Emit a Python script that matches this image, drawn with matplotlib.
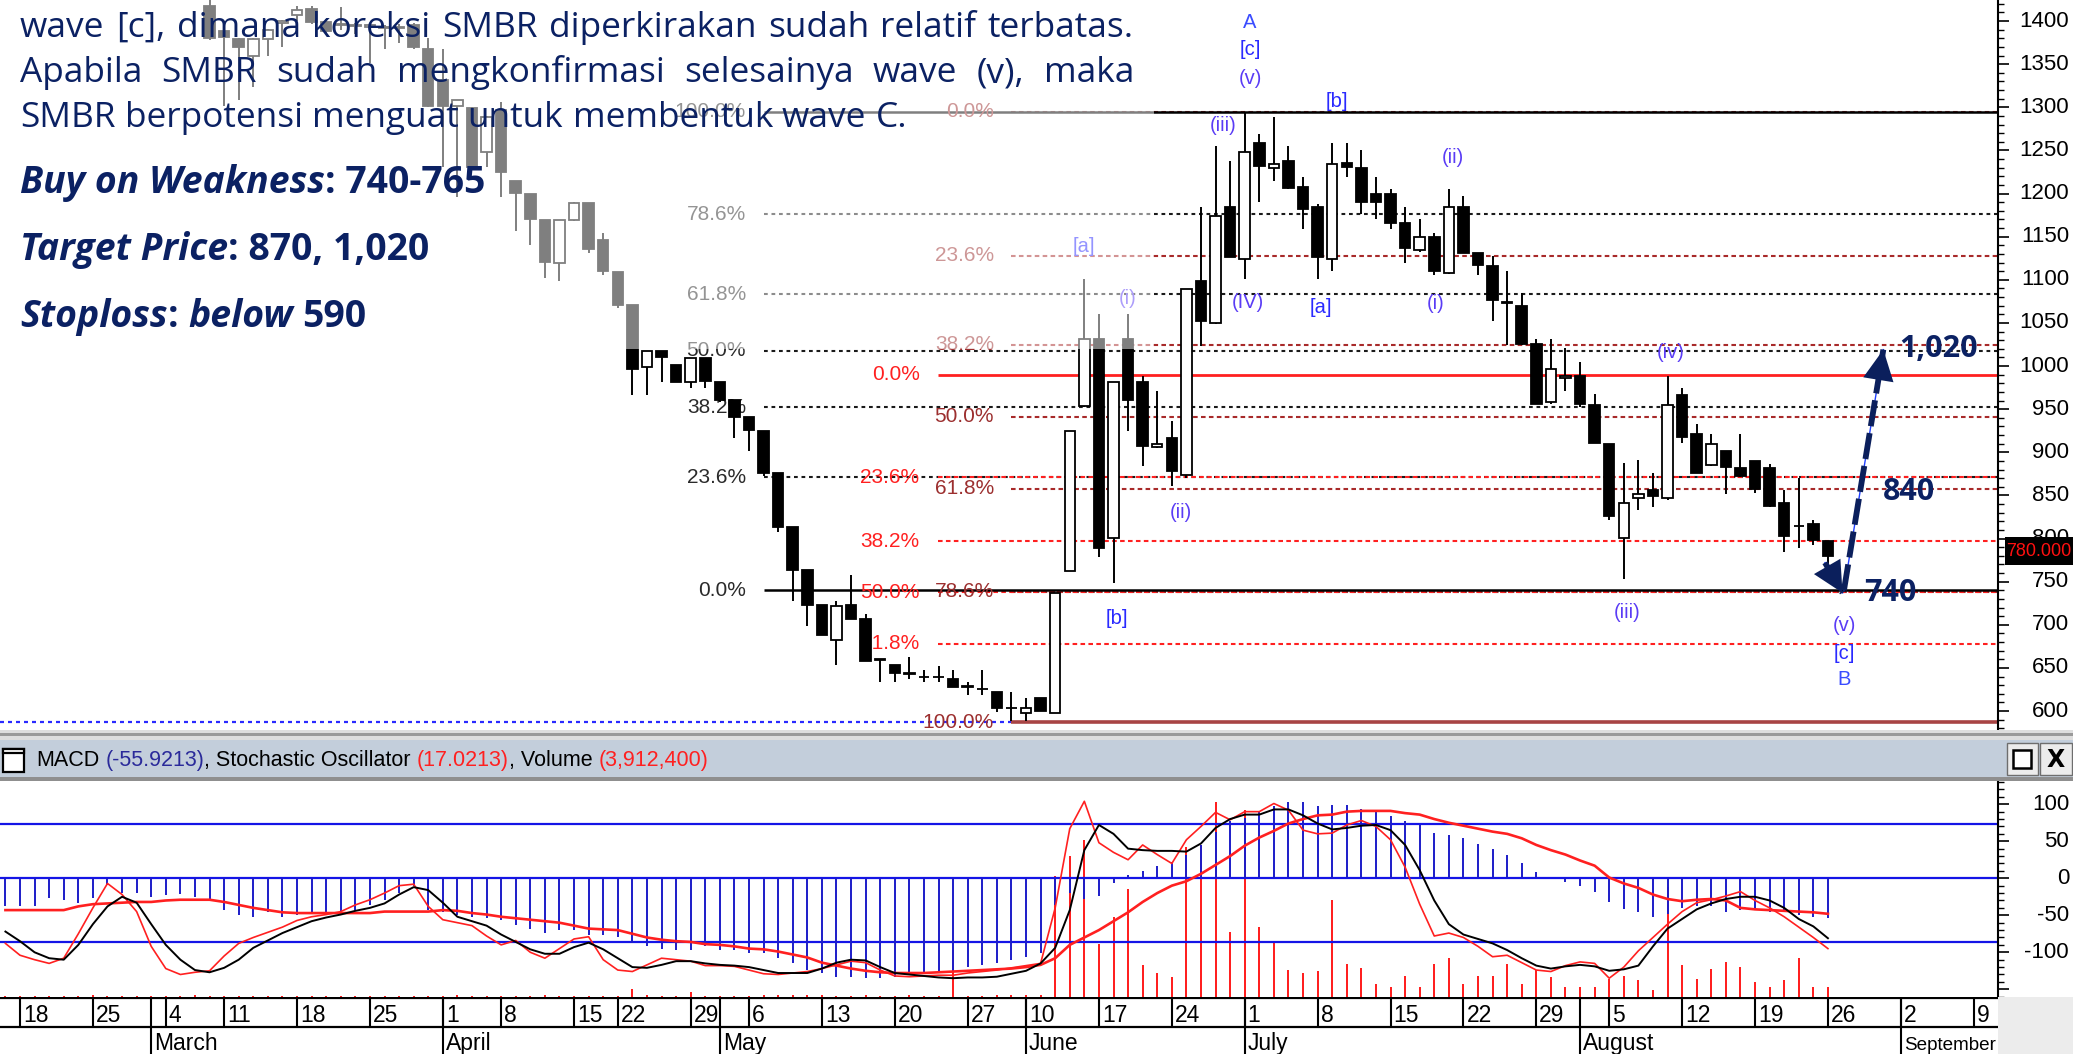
import numpy as np
import pandas as pd
import matplotlib
matplotlib.use("Agg")
import matplotlib.pyplot as plt
from matplotlib import font_manager as fm
from matplotlib.patches import Rectangle
import matplotlib.transforms as mtrans

# ------------------------------------------------------------------ data
holidays = pd.to_datetime(["2019-03-07", "2019-04-03", "2019-04-17", "2019-04-19",
                           "2019-05-01", "2019-05-30", "2019-06-03", "2019-06-04",
                           "2019-06-05", "2019-06-06", "2019-06-07"])
days = pd.bdate_range("2019-02-15", "2019-09-13")
days = days[~days.isin(holidays)]
day_idx = np.arange(len(days)) - 1          # 0 -> 18 Feb 2019

candle_idx = np.arange(13, 125)
opens = [1417, 1388, 1379, 1360, 1379, 1398, 1407, 1414, 1399, 1395,
         1395, 1393, 1393, 1392, 1395, 1368, 1332, 1302, 1299, 1248,
         1297, 1214, 1200, 1169, 1119, 1169, 1189, 1146, 1109, 1071,
         999, 1017, 1001, 981, 1009, 982, 961, 941, 925, 876,
         813, 763, 723, 682, 723, 707, 660, 653, 644, 640,
         640, 637, 629, 626, 622, 603, 598, 615, 598, 762,
         954, 1031, 801, 1031, 981, 906, 917, 874, 1099, 1050,
         1184, 1124, 1258, 1230, 1238, 1208, 1184, 1124, 1235, 1230,
         1200, 1200, 1166, 1134, 1150, 1108, 1184, 1131, 1116, 1074,
         1070, 1025, 958, 986, 989, 955, 910, 801, 847, 856,
         847, 966, 921, 885, 901, 882, 890, 882, 841, 814,
         817, 797]
highs = [1424, 1390, 1380, 1380, 1391, 1401, 1417, 1417, 1402, 1416,
         1398, 1397, 1395, 1397, 1398, 1380, 1368, 1308, 1300, 1290,
         1306, 1214, 1200, 1169, 1169, 1190, 1189, 1154, 1109, 1071,
         1017, 1017, 1001, 1009, 1009, 982, 961, 941, 925, 876,
         813, 763, 723, 727, 758, 713, 660, 653, 663, 648,
         652, 648, 634, 648, 622, 622, 615, 615, 737, 925,
         1101, 1060, 981, 1060, 988, 971, 936, 1089, 1184, 1255,
         1238, 1294, 1269, 1289, 1255, 1219, 1188, 1259, 1259, 1250,
         1219, 1205, 1184, 1170, 1154, 1205, 1197, 1131, 1128, 1110,
         1085, 1031, 1031, 1021, 1005, 967, 910, 887, 891, 876,
         988, 975, 933, 921, 901, 921, 890, 886, 856, 870,
         821, 797]
lows = [1378, 1301, 1308, 1324, 1359, 1370, 1400, 1396, 1385, 1390,
        1385, 1351, 1368, 1374, 1368, 1300, 1231, 1196, 1229, 1231,
        1196, 1156, 1140, 1102, 1098, 1168, 1131, 1105, 1067, 966,
        966, 982, 981, 975, 975, 958, 917, 902, 873, 807,
        727, 699, 688, 653, 707, 658, 634, 634, 637, 634,
        634, 628, 619, 619, 599, 588, 588, 600, 598, 762,
        953, 778, 749, 925, 884, 905, 861, 870, 1023, 1049,
        1126, 1101, 1190, 1215, 1205, 1159, 1101, 1110, 1219, 1176,
        1170, 1159, 1120, 1132, 1106, 1107, 1131, 1106, 1052, 1024,
        1024, 956, 956, 971, 953, 911, 822, 753, 833, 837,
        845, 911, 876, 884, 852, 871, 853, 837, 784, 789,
        792, 771]
closes = [1380, 1381, 1370, 1379, 1390, 1400, 1413, 1399, 1388, 1396,
          1394, 1395, 1392, 1393, 1370, 1301, 1301, 1308, 1231, 1289,
          1225, 1201, 1171, 1121, 1169, 1189, 1136, 1110, 1071, 997,
          1017, 1011, 982, 1009, 983, 961, 941, 926, 876, 813,
          763, 723, 688, 722, 707, 658, 659, 644, 643, 639,
          639, 628, 628, 625, 604, 603, 603, 600, 737, 925,
          1031, 789, 981, 961, 907, 910, 878, 1089, 1052, 1174,
          1126, 1248, 1232, 1234, 1206, 1182, 1126, 1234, 1231, 1190,
          1190, 1166, 1137, 1149, 1110, 1184, 1131, 1117, 1076, 1073,
          1025, 956, 996, 989, 956, 911, 826, 841, 852, 849,
          955, 918, 876, 910, 883, 872, 857, 838, 803, 814,
          798, 780]

# indicator panel values (idx -1 .. 124), in the panel's own scale
macd_hist = [-38, -38, -38, -27, -30, -34, -27, -9, -20, -20,
             -25, -23, -21, -25, -31, -43, -50, -52, -45, -52,
             -50, -47, -46, -45, -43, -36, -29, -20, -11, -43,
             -45, -50, -52, -54, -56, -63, -68, -74, -70, -70,
             -77, -77, -79, -88, -91, -95, -97, -97, -92, -97,
             -97, -101, -101, -108, -115, -124, -128, -133, -133, -135,
             -135, -133, -131, -128, -128, -125, -120, -117, -115, -110,
             -106, -101, -36, -20, -28, -24, -7, 5, 10, 17,
             22, 32, 45, 62, 78, 81, 89, 98, 103, 103,
             97, 99, 99, 94, 90, 84, 78, 72, 61, 58,
             54, 46, 39, 31, 21, 9, 0, -5, -11, -19,
             -32, -42, -46, -52, -48, -40, -37, -37, -45, -43,
             -43, -45, -43, -49, -52, -54]
macd_signal = [-43, -43, -43, -43, -43, -38, -35, -34, -33, -32,
               -32, -30, -29, -29, -29, -32, -36, -40, -43, -46,
               -47, -47, -47, -47, -47, -47, -45, -45, -45, -45,
               -43, -44, -47, -49, -52, -54, -56, -58, -60, -64,
               -68, -69, -70, -75, -80, -83, -85, -86, -89, -90,
               -92, -95, -96, -99, -103, -107, -114, -118, -122, -125,
               -127, -128, -128, -128, -127, -126, -125, -124, -123, -122,
               -120, -117, -108, -90, -80, -70, -58, -46, -32, -20,
               -10, -4, 6, 18, 30, 44, 55, 64, 74, 80,
               85, 86, 90, 91, 91, 91, 88, 86, 80, 75,
               71, 67, 63, 60, 54, 45, 38, 32, 24, 17,
               1, -7, -13, -22, -28, -31, -29, -28, -30, -40,
               -42, -43, -44, -45, -46, -48]
stoch_k = [-72, -85, -100, -108, -110, -90, -62, -38, -25, -33,
           -62, -90, -110, -124, -127, -121, -110, -94, -84, -74,
           -66, -58, -53, -49, -44, -40, -34, -22, -12, -16,
           -33, -52, -58, -64, -76, -86, -96, -102, -102, -93,
           -87, -96, -108, -120, -121, -117, -112, -112, -115, -117,
           -118, -120, -124, -128, -128, -128, -122, -114, -110, -111,
           -120, -128, -130, -132, -134, -135, -134, -134, -133, -129,
           -125, -115, -94, -43, 38, 72, 60, 40, 38, 37,
           37, 36, 47, 68, 80, 86, 86, 93, 93, 85,
           74, 66, 68, 71, 72, 65, 45, 11, -30, -62,
           -76, -82, -88, -97, -108, -118, -122, -119, -117, -119,
           -125, -123, -118, -92, -68, -55, -42, -34, -28, -25,
           -25, -30, -40, -55, -65, -81]
stoch_d = [-88, -104, -110, -115, -108, -75, -40, -7, -22, -45,
           -92, -122, -130, -127, -125, -105, -88, -80, -73, -66,
           -57, -52, -49, -45, -36, -29, -20, -10, -8, -38,
           -56, -60, -64, -78, -90, -84, -100, -108, -95, -82,
           -79, -110, -124, -126, -117, -108, -110, -112, -118, -118,
           -119, -124, -129, -130, -128, -126, -122, -117, -112, -114,
           -124, -132, -133, -132, -131, -131, -128, -126, -124, -121,
           -118, -115, -40, 67, 104, 48, 35, 25, 45, 32,
           20, 52, 70, 89, 79, 90, 90, 101, 92, 65,
           60, 61, 72, 78, 70, 52, 15, -35, -78, -74,
           -80, -92, -106, -104, -114, -124, -126, -118, -113, -115,
           -135, -120, -98, -80, -62, -45, -33, -29, -24, -18,
           -30, -40, -52, -66, -80, -95]
volume_m = [0.45, 0.45, 0.45, 0.45, 0.45, 0.45, 0.75, 0.45, 0.45, 0.45,
            0.45, 0.45, 0.45, 0.75, 0.45, 0.45, 0.45, 0.45, 0.45, 0.45,
            0.45, 0.45, 0.45, 0.45, 0.45, 0.45, 0.45, 0.45, 0.45, 0.45,
            0.45, 0.75, 0.45, 0.45, 0.45, 0.45, 0.45, 0.75, 0.45, 0.45,
            0.45, 0.45, 0.45, 3.3, 0.75, 0.45, 0.45, 2.1, 0.45, 0.45,
            0.45, 0.45, 0.75, 0.75, 0.75, 0.75, 0.75, 0.45, 0.45, 0.75,
            0.45, 0.45, 0.75, 0.45, 0.45, 19.0, 0.45, 0.45, 0.75, 0.75,
            0.75, 0.75, 49.4, 57.5, 63.9, 21.7, 32.5, 44.0, 13.0, 9.6,
            8.1, 61.1, 61.7, 79.5, 26.5, 75.9, 28.6, 22.3, 11.1, 9.6,
            10.5, 39.5, 13.6, 12.0, 5.1, 4.2, 8.7, 4.2, 13.6, 15.7,
            5.1, 8.7, 8.7, 13.6, 5.1, 10.8, 8.1, 3.9, 4.2, 3.9,
            7.5, 8.7, 6.9, 3.0, 44.9, 13.0, 7.5, 11.4, 14.2, 12.3,
            6.0, 4.2, 6.9, 15.7, 3.9, 3.9124]
ind_levels = [72.9, 0, -85.7]
ind_idx = np.arange(-1, 125)

# Fibonacci sets
fib_a = dict(low=740, high=1295, ratios=[0, .236, .382, .5, .618, .786, 1.0])
fib_b = dict(high=990, low=485, ratios=[0, .236, .382, .5, .618])
fib_c = dict(high=1295, low=587, ratios=[0, .236, .382, .5, .618, .786, 1.0])
stop_level = 587
last_price = 780.0

wave_labels = [("A", 84.36, 1398.8, "l"), ("[c]", 84.36, 1366.4, "b"), ("(v)", 84.36, 1332.8, "p"),
               ("(iii)", 82.5, 1278.3, "p"), ("[b]", 90.3, 1306.1, "b"), ("(ii)", 98.3, 1242.3, "p"),
               ("[a]", 73.0, 1138.0, "b"), ("(i)", 76.0, 1078.8, "p"), ("(IV)", 84.2, 1074.2, "p"),
               ("[a]", 89.2, 1068.4, "b"), ("(i)", 97.1, 1073.0, "p"), ("(iv)", 113.2, 1016.2, "p"),
               ("(ii)", 79.6, 830.7, "p"), ("[b]", 75.2, 707.8, "b"), ("(iii)", 110.2, 714.8, "p"),
               ("(v)", 125.1, 699.7, "p"), ("[c]", 125.1, 667.2, "b"), ("B", 125.1, 636.0, "l")]
targets = [("1,020", 1020), ("840", 854), ("740", 737)]
path_down = [(123.8, 772), (125.0, 737)]
path_up = [(125.1, 740), (127.8, 1019)]

title_lines = ["wave [c], dimana koreksi SMBR diperkirakan sudah relatif terbatas.",
               "Apabila SMBR sudah mengkonfirmasi selesainya wave (v), maka",
               "SMBR berpotensi menguat untuk membentuk wave C."]
# ------------------------------------------------------------------ layout
W, H, DPI = 2073, 1054, 100
XPX0, XSTEP = 20.0, 14.58
XMIN, XMAX = (0 - XPX0) / XSTEP, (1998 - XPX0) / XSTEP
P_TOP, P_BOT = 1424.35, 578.0
IND_TOP, IND_BOT = 131.4, -160.4
VOLK = 3.32

avail = {f.name for f in fm.fontManager.ttflist}
def pick(cands):
    for c in cands:
        if c in avail:
            return c
    return "DejaVu Sans"
NARROW = pick(["Liberation Sans Narrow", "Arial Narrow", "Liberation Sans", "DejaVu Sans"])
BODY = pick(["Segoe UI", "Open Sans", "Noto Sans", "DejaVu Sans"])
plt.rcParams['font.family'] = [NARROW, 'DejaVu Sans']

NAVY = "#0b2163"
fig = plt.figure(figsize=(W / DPI, H / DPI), dpi=DPI)
fig.patch.set_facecolor("white")
R = fig.canvas.get_renderer()

def px_axes(x0, y0, x1, y1):
    return fig.add_axes([x0 / W, 1 - y1 / H, (x1 - x0) / W, (y1 - y0) / H])

def frect(x0, y0, x1, y1, fc, ec="none", lw=0, z=1, alpha=1.0):
    r = Rectangle((x0 / W, 1 - y1 / H), (x1 - x0) / W, (y1 - y0) / H, transform=fig.transFigure,
                  facecolor=fc, edgecolor=ec, linewidth=lw, zorder=z, alpha=alpha)
    fig.add_artist(r)
    return r

def tw(s, **kw):
    t = fig.text(0, 0, s, **kw)
    w = t.get_window_extent(renderer=R).width
    t.remove()
    return w

# ------------------------------------------------------------------ price panel
ax = px_axes(0, 0, 1998, 730)
ax.set_xlim(XMIN, XMAX)
ax.set_ylim(P_BOT, P_TOP)
for s in ["top", "left", "bottom"]:
    ax.spines[s].set_visible(False)
ax.spines["right"].set_linewidth(1.5)
ax.set_xticks([])
ax.yaxis.tick_right()
ax.set_yticks(np.arange(600, 1401, 50))
ax.set_yticks(np.arange(580, 1421, 10), minor=True)
ax.tick_params(axis="y", which="major", length=8, width=1.2, labelright=False)
ax.tick_params(axis="y", which="minor", length=4, width=1.0)
trp = mtrans.blended_transform_factory(fig.transFigure, ax.transData)
for v in range(600, 1401, 50):
    ax.text(2069 / W, v, str(v), transform=trp, ha="right", va="center", fontsize=16, family=NARROW)

def fib_draw(fs, start, lab_x, lcolor, tcolor, ls, solid_ends, upward):
    hi, lo = fs["high"], fs["low"]
    for r in fs["ratios"]:
        lev = lo + r * (hi - lo) if upward else hi - r * (hi - lo)
        if r in solid_ends:
            ax.hlines(lev, start, XMAX, color=solid_ends[r][0], lw=solid_ends[r][1], zorder=1.2)
        else:
            ax.hlines(lev, start, XMAX, color=lcolor, lw=1.5, linestyles=[ls], zorder=1.1)
        ax.text(lab_x, lev, f"{r * 100:.1f}%", ha="right", va="center", color=tcolor,
                fontsize=15, family=NARROW, zorder=1.3)

fib_draw(fib_a, 51.0, 49.8, "#1a1a1a", "#2a2a2a", (0, (1.8, 1.8)),
         {0: ("black", 1.8), 1.0: ("black", 1.8)}, True)
fib_draw(fib_c, 68.0, 66.8, "#a82a2a", "#9c2f2f", (0, (2.2, 1.6)),
         {1.0: ("#a84444", 2.6)}, False)
fib_draw(fib_b, 62.96, 61.7, "#ff2020", "#ff2020", (0, (2.2, 1.6)),
         {0: ("#ff2020", 2.0)}, False)
ax.hlines(stop_level, XMIN, 68.0, color="#2a2aff", lw=1.6, linestyles=[(0, (1.8, 1.8))], zorder=1.1)

# candles
o = np.array(opens, float); h = np.array(highs, float)
l = np.array(lows, float); c = np.array(closes, float)
ax.vlines(candle_idx, l, h, color="black", lw=1.4, zorder=3)
up = c > o
ax.bar(candle_idx, np.abs(c - o), bottom=np.minimum(o, c), width=0.72,
       color=np.where(up, "white", "black"), edgecolor="black", linewidth=1.3, zorder=3.1)

# wave labels
wcol = {"l": "#3a4cff", "b": "#2a2aff", "p": "#5a3cf5"}
for txt, xi, yv, k in wave_labels:
    ax.text(xi, yv, txt, ha="center", va="center", color=wcol[k], fontsize=14.5,
            family=NARROW, zorder=4)

# projection arrows
for pth in (path_down, path_up):
    ax.plot(*zip(*pth), color="#2040ff", lw=1.0, zorder=5)
    ax.plot(*zip(*pth), color="#0b1f5c", lw=4.2, dashes=(4.5, 1.2), zorder=5.1,
            solid_capstyle="butt", dash_capstyle="butt")
    (x0, y0), (x1, y1) = pth
    ax.annotate("", xy=(x1, y1), xytext=(x0 + (x1 - x0) * 0.8, y0 + (y1 - y0) * 0.8),
                arrowprops=dict(arrowstyle="-|>,head_length=1.0,head_width=0.5", lw=0,
                                color="#0b1f5c", mutation_scale=22, shrinkA=0, shrinkB=0),
                zorder=5.2)
tgt_x = {"1,020": 128.9, "840": 127.8, "740": 126.5}
for txt, yv in targets:
    ax.text(tgt_x[txt], yv, txt, ha="left", va="center", color=NAVY, fontsize=22,
            fontweight="bold", family=BODY, zorder=6)

# last price box
frect(2005, 537, 2073, 565, "black", z=7)
fig.text(2039 / W, 1 - 551 / H, f"{last_price:.3f}", ha="center", va="center", color="#ff1010",
         fontsize=13, family=NARROW, zorder=8)

# ------------------------------------------------------------------ separator + header
frect(0, 730, 2073, 740, "#dedede", z=1)
frect(0, 733, 2073, 736, "#9a9a9a", z=1.1)
frect(0, 740, 2073, 778, "#c3cedb", z=1)
frect(0, 777, 2073, 781, "#8f8f8f", z=1.1)
frect(3, 749, 24, 772, "white", ec="black", lw=1.6, z=2)
frect(3, 749, 24, 753, "white", ec="black", lw=1.6, z=2.1)
for bx0, bx1 in [(2007, 2038), (2040, 2072)]:
    frect(bx0, 743, bx1, 775, "#ececec", ec="#6e6e6e", lw=1.0, z=2)
frect(2013, 750, 2031, 768, "white", ec="black", lw=1.8, z=2.2)
fig.text(2056 / W, 1 - 760 / H, "X", ha="center", va="center", fontsize=17, fontweight="bold",
         family="DejaVu Sans", zorder=3)

hdr = [("MACD", "black"), ("(-55.9213)", "#2a2a9a"), (", Stochastic Oscillator", "black"),
       ("(17.0213)", "#ff2020"), (", Volume", "black"), ("(3,912,400)", "#ff2020")]
hsz = 15.5
sp = tw("a a", fontsize=hsz, family=NARROW) - tw("aa", fontsize=hsz, family=NARROW)
xx = 36
for k, (s, col) in enumerate(hdr):
    if k in (1, 3, 5):
        xx += sp
    fig.text(xx / W, 1 - 766 / H, s, color=col, fontsize=hsz, family=NARROW, va="baseline", zorder=3)
    xx += tw(s, fontsize=hsz, family=NARROW)

# ------------------------------------------------------------------ indicator panel
ax2 = px_axes(0, 781, 1998, 997)
ax2.set_xlim(XMIN, XMAX)
ax2.set_ylim(IND_BOT, IND_TOP)
for s in ["top", "left", "bottom"]:
    ax2.spines[s].set_visible(False)
ax2.spines["right"].set_linewidth(1.5)
ax2.set_xticks([])
ax2.yaxis.tick_right()
ax2.set_yticks(np.arange(-150, 101, 50))
ax2.set_yticks(np.arange(-160, 131, 10), minor=True)
ax2.tick_params(axis="y", which="major", length=8, width=1.2, labelright=False)
ax2.tick_params(axis="y", which="minor", length=4, width=1.0)
tri = mtrans.blended_transform_factory(fig.transFigure, ax2.transData)
for v in (100, 50, 0, -50, -100):
    ax2.text(2069 / W, v, str(v), transform=tri, ha="right", va="center", fontsize=16, family=NARROW)
vol = np.array(volume_m) * VOLK
ax2.vlines(ind_idx, IND_BOT, IND_BOT + vol, color="#ff1a1a", lw=1.4, zorder=1)
for lv in ind_levels:
    ax2.axhline(lv, color="#1414e6", lw=1.6, zorder=1.5)
ax2.vlines(ind_idx, 0, macd_hist, color="#1c1cc8", lw=1.4, zorder=2)
ax2.plot(ind_idx, macd_signal, color="#ff2020", lw=1.9, zorder=3)
ax2.plot(ind_idx, stoch_d, color="#ff2020", lw=1.2, zorder=3.1)
ax2.plot(ind_idx, stoch_k, color="black", lw=1.4, zorder=3.2)

# ------------------------------------------------------------------ date axis
ax3 = px_axes(0, 997, 1998, 1054)
ax3.set_xlim(XMIN, XMAX)
ax3.set_ylim(57, 0)
ax3.axis("off")
ax3.axhline(0.8, color="black", lw=1.6)
ax3.axhline(30, color="black", lw=1.6)
mondays = day_idx[days.weekday == 0]
mdays = days[days.weekday == 0]
ax3.vlines(mondays, 0, 30, color="black", lw=1.5)
DSZ = 16.5
for i, d in zip(mondays, mdays):
    ax3.text(i + 3 / XSTEP, 24.5, str(d.day), va="baseline", ha="left", fontsize=DSZ, family=NARROW)
mstart = [k for k in range(1, len(days)) if days[k].month != days[k - 1].month]
for k in mstart:
    ax3.vlines(day_idx[k], 0, 57, color="black", lw=1.5)
    name = days[k].strftime("%B")
    room = 1996 - (XPX0 + day_idx[k] * XSTEP + 3)
    msz = min(DSZ, DSZ * room / tw(name, fontsize=DSZ, family=NARROW))
    ax3.text(day_idx[k] + 3 / XSTEP, 53, name, va="baseline", ha="left",
             fontsize=msz, family=NARROW)
frect(1998, 997, 2073, 1054, "#ececec", z=1)

# ------------------------------------------------------------------ text overlay
frect(0, 0, 1154, 349, "white", z=5, alpha=0.5)

base = 20
spb = tw("a a", family=BODY, fontsize=base) - tw("aa", family=BODY, fontsize=base)
w3 = sum(tw(wd, family=BODY, fontsize=base) for wd in title_lines[2].split()) \
     + spb * (len(title_lines[2].split()) - 1)
fsz = base * 888 / w3
spb = tw("a a", family=BODY, fontsize=fsz) - tw("aa", family=BODY, fontsize=fsz)
for li, (line, yb) in enumerate(zip(title_lines, [37, 82, 127])):
    words = line.split()
    ws = [tw(wd, family=BODY, fontsize=fsz) for wd in words]
    gap = (1114 - sum(ws)) / (len(words) - 1) if li < 2 else spb
    xx = 20
    for wd, wv in zip(words, ws):
        fig.text(xx / W, 1 - yb / H, wd, va="baseline", ha="left", zorder=6,
                 family=BODY, fontsize=fsz, color=NAVY)
        xx += wv + gap

bi = dict(fontweight="bold", fontstyle="italic")
bn = dict(fontweight="bold", fontstyle="normal")
bold_lines = [([("Buy on Weakness", bi), (": 740-765", bn)], 193),
              ([("Target Price", bi), (": 870, 1,020", bn)], 260),
              ([("Stoploss", bi), (":", bn), (" below", bi), (" 590", bn)], 327)]

def seg_width(segs, size):
    tot = 0
    for s, st in segs:
        lead = len(s) - len(s.lstrip(" "))
        sps = tw("a a", family=BODY, fontsize=size, **st) - tw("aa", family=BODY, fontsize=size, **st)
        tot += lead * sps + tw(s.strip(" "), family=BODY, fontsize=size, **st)
    return tot

bsz = 20 * 465 / seg_width(bold_lines[0][0], 20)
for segs, yb in bold_lines:
    xx = 20
    for s, st in segs:
        lead = len(s) - len(s.lstrip(" "))
        sps = tw("a a", family=BODY, fontsize=bsz, **st) - tw("aa", family=BODY, fontsize=bsz, **st)
        xx += lead * sps
        core = s.strip(" ")
        fig.text(xx / W, 1 - yb / H, core, va="baseline", ha="left", family=BODY, fontsize=bsz,
                 color=NAVY, zorder=6, **st)
        xx += tw(core, family=BODY, fontsize=bsz, **st)

fig.savefig("out.png", dpi=DPI, facecolor="white")
